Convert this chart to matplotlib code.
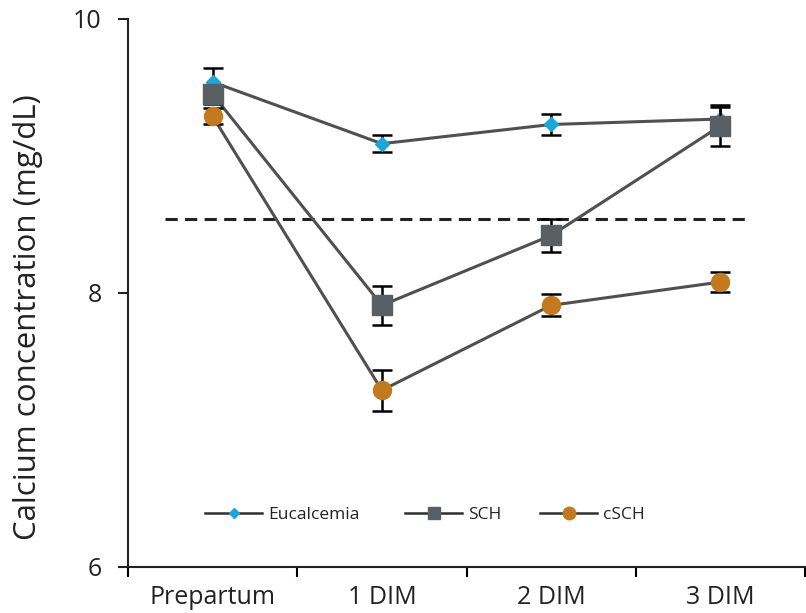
import matplotlib
matplotlib.use("Agg")
import matplotlib.pyplot as plt
from matplotlib.lines import Line2D
from matplotlib.legend import Legend

categories = ["Prepartum", "1 DIM", "2 DIM", "3 DIM"]
euc = [9.54, 9.09, 9.23, 9.27]
euc_err = [0.10, 0.06, 0.08, 0.09]
sch = [9.45, 7.91, 8.42, 9.22]
sch_err = [0.07, 0.14, 0.12, 0.15]
csch = [9.29, 7.29, 7.91, 8.08]
csch_err = [0.06, 0.15, 0.08, 0.075]
threshold = 8.54
yticks = [6, 8, 10]

plt.rcParams['font.family'] = ['Open Sans', 'DejaVu Sans']

fig = plt.figure(figsize=(8.06, 6.13), dpi=100)
ax = fig.add_axes([128/806, 46/613, 677/806, 548/613])

x = list(range(len(categories)))
line_col = '#505050'

ax.plot([-0.28, 3.15], [threshold, threshold], ls=(0, (4, 2.4)), color='#222222', lw=2.2, zorder=1)

series = [
    ("Eucalcemia", euc, euc_err, 'D', '#1aa6d8', 7, 2),
    ("SCH", sch, sch_err, 's', '#5a5f63', 14, 3),
    ("cSCH", csch, csch_err, 'o', '#c27a1c', 13, 4),
]
handles = []
for name, vals, errs, mk, col, ms, z in series:
    ax.plot(x, vals, color=line_col, lw=2.2, zorder=z)
    ax.errorbar(x, vals, yerr=errs, fmt='none', ecolor='black', elinewidth=1.8,
                capsize=7, capthick=1.8, zorder=z)
    ax.plot(x, vals, ls='none', marker=mk, ms=ms, mfc=col, mec=col, zorder=z + 0.5)
    handles.append(Line2D([0], [0], color='#303030', lw=1.8, marker=mk, mfc=col, mec=col,
                          ms={'D': 5, 's': 9, 'o': 9}[mk], label=name))

ax.set_xlim(-0.5, 3.5)
ax.set_ylim(6, 10)
ax.set_yticks(yticks)
ax.set_yticklabels([str(v) for v in yticks])
ax.set_xticks([i - 0.5 for i in range(len(categories) + 1)])
ax.set_xticklabels([])
ax.set_xticks(x, minor=True)
ax.set_xticklabels(categories, minor=True)
ax.tick_params(axis='x', which='minor', length=0, pad=13, labelsize=18, colors='#222222')
ax.tick_params(axis='x', which='major', length=7, width=1.5, direction='out')
ax.tick_params(axis='y', length=7, width=1.5, direction='out', labelsize=18, pad=12, colors='#222222')
for s in ['top', 'right']:
    ax.spines[s].set_visible(False)
for s in ['left', 'bottom']:
    ax.spines[s].set_linewidth(1.5)
    ax.spines[s].set_color('#222222')

ax.set_ylabel("Calcium concentration (mg/dL)", fontsize=22.5, color='#222222')
ax.yaxis.set_label_coords(-0.125, 0.456)

anchors = [0.1137, 0.409, 0.6086]
for h, ax_x in zip(handles, anchors):
    lg = Legend(ax, [h], [h.get_label()], loc='center left', bbox_to_anchor=(0.0, 0.0, 1.0, 1.0),
                frameon=False, fontsize=12.5, handlelength=3.3, handletextpad=0.35,
                borderpad=0, borderaxespad=0, labelcolor='#222222')
    lg.set_bbox_to_anchor((ax_x, 0.095), transform=ax.transAxes)
    ax.add_artist(lg)

fig.savefig("out.png", dpi=100)
